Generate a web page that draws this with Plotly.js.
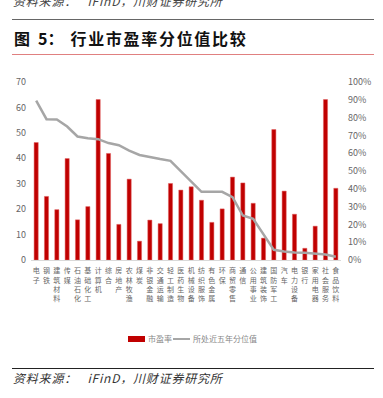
<!DOCTYPE html>
<html><head><meta charset="utf-8">
<script src="https://cdn.plot.ly/plotly-3.0.1.min.js"></script>
<style>
html,body{margin:0;padding:0;background:#fff;width:383px;height:398px;overflow:hidden;font-family:"Noto Sans CJK SC","Noto Sans",sans-serif;}
#chart{position:absolute;left:0;top:0;width:383px;height:398px;}
.hl{position:absolute;left:12px;width:362px;height:0;}
.txt{position:absolute;white-space:nowrap;line-height:1;}
</style></head><body>
<div id="chart"></div>
<div class="txt" style="left:13px;top:-5px;font-size:12px;font-style:italic;color:#444;letter-spacing:0.8px;">资料来源：&nbsp;&nbsp;&nbsp;iFinD，川财证券研究所</div>
<div class="hl" style="top:19px;border-top:1.5px solid #666;"></div>
<div class="txt" style="left:14px;top:30px;font-size:16px;font-weight:bold;color:#111;"><span>图</span><span style="margin-left:8px;">5：</span><span style="margin-left:7px;letter-spacing:1.7px;">行业市盈率分位值比较</span></div>
<div class="hl" style="top:54px;border-top:1.5px solid #E08080;"></div>
<div class="txt" style="left:128px;top:336px;width:17px;height:6px;background:#C00000;"></div>
<div class="txt" style="left:148px;top:335px;font-size:8px;color:#888;">市盈率</div>
<div class="txt" style="left:173px;top:338px;width:17px;height:2px;background:#A6A6A6;"></div>
<div class="txt" style="left:193px;top:335px;font-size:8px;color:#888;">所处近五年分位值</div>
<div class="hl" style="top:368px;border-top:1.5px solid #222;"></div>
<div class="txt" style="left:13px;top:372px;font-size:12px;font-style:italic;color:#333;letter-spacing:0.8px;">资料来源：&nbsp;&nbsp;&nbsp;iFinD，川财证券研究所</div>
<script>
const categories = ["电子","钢铁","建筑材料","传媒","石油石化","基础化工","计算机","综合","房地产","农林牧渔","煤炭","非银金融","交通运输","轻工制造","医药生物","机械设备","纺织服饰","有色金属","环保","商贸零售","通信","公用事业","建筑装饰","国防军工","汽车","电力设备","银行","家用电器","社会服务","食品饮料"];
const peRatio = [46.2,25.0,19.8,39.9,15.8,21.0,63.1,41.9,14.0,31.8,7.4,15.7,14.3,30.1,27.5,28.8,23.5,14.8,20.1,32.6,30.3,22.3,8.6,51.3,27.1,18.0,4.6,13.3,63.1,28.2];
const percentile = [0.895,0.791,0.789,0.750,0.694,0.684,0.679,0.657,0.645,0.615,0.590,0.577,0.567,0.557,0.497,0.440,0.383,0.383,0.383,0.353,0.250,0.231,0.143,0.057,0.048,0.042,0.041,0.038,0.031,0.018];
const leftTicks = [0,10,20,30,40,50,60,70];
const rightTicks = [0,0.1,0.2,0.3,0.4,0.5,0.6,0.7,0.8,0.9,1.0];

const tickText = categories.map(c => c.split('').join('<br>'));
const axisFont = {family:'"Noto Sans CJK SC","Noto Sans",sans-serif', size:9, color:'#666'};

const traces = [
  {type:'bar', name:'市盈率', x:categories, y:peRatio, width:0.4,
   marker:{color:'#C00000', line:{color:'#E06060', width:0.5}}, yaxis:'y'},
  {type:'scatter', mode:'lines', name:'所处近五年分位值', x:categories, y:percentile,
   line:{color:'#A6A6A6', width:2.5}, yaxis:'y2'}
];
const layout = {
  width:383, height:398,
  margin:{l:31, r:42, t:82, b:137.5, pad:0},
  paper_bgcolor:'#fff', plot_bgcolor:'#fff',
  showlegend:false,
  xaxis:{type:'category', tickmode:'array', tickvals:categories, ticktext:tickText, tickangle:0,
    tickfont:{family:'"Noto Sans CJK SC",sans-serif', size:7, color:'#666'},
    showline:true, linecolor:'#D9D9D9', linewidth:1, ticks:'', showgrid:false, zeroline:false,
    range:[-0.5,29.5], ticklabelstandoff:4},
  yaxis:{range:[0,70], tickmode:'array', tickvals:leftTicks, ticktext:leftTicks.map(String),
    showgrid:false, zeroline:false, showline:false, ticks:'', tickfont:axisFont, ticklabelstandoff:4},
  yaxis2:{range:[0,1], overlaying:'y', side:'right', tickmode:'array', tickvals:rightTicks,
    ticktext:rightTicks.map(v=>Math.round(v*100)+'%'),
    showgrid:false, zeroline:false, showline:false, ticks:'', tickfont:axisFont, ticklabelstandoff:6}
};
Plotly.newPlot('chart', traces, layout, {displayModeBar:false, staticPlot:true});
</script>
</body></html>
